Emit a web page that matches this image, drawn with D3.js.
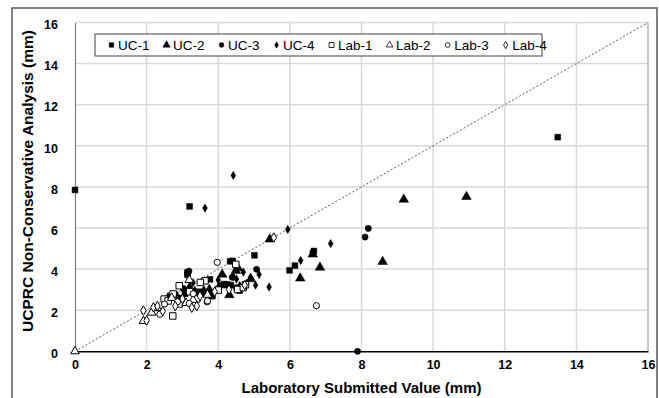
<!DOCTYPE html>
<html>
<head>
<meta charset="utf-8">
<script src="https://cdn.jsdelivr.net/npm/d3@7"></script>
<style>
  html, body { margin: 0; padding: 0; background: #fff; }
  svg { display: block; font-family: "Liberation Sans", Arial, sans-serif; }
</style>
</head>
<body>
<svg id="chart"></svg>
<script>
// data: [lab submitted, UCPRC non-conservative]
const uc1 = [[0, 7.85], [3.2, 7.05], [13.48, 10.42], [6.67, 4.88], [6.64, 4.76], [6.14, 4.17], [5.99, 3.94],
  [5.01, 4.67], [4.33, 4.38], [4.4, 4.4], [3.14, 3.84], [3.14, 3.72], [3.77, 3.5], [4.16, 3.27], [4.26, 3.25],
  [4.35, 3.22], [3.84, 2.69], [3.07, 2.79], [3.49, 2.9], [3.81, 2.69], [4.19, 3.22], [2.8, 2.75], [4.6, 2.95]];
const uc2 = [[9.18, 7.39], [10.93, 7.52], [8.59, 4.36], [6.84, 4.08], [6.29, 3.55], [6.64, 4.72], [5.44, 5.45],
  [4.49, 3.92], [4.91, 3.52], [4.11, 3.74], [4.31, 2.74], [3.35, 2.9], [3.75, 3.0], [2.6, 2.6], [3.0, 2.5],
  [4.55, 4.05], [3.2, 3.1]];
const uc3 = [[8.19, 5.98], [8.1, 5.56], [7.89, 0], [5.07, 3.99], [4.39, 3.6], [3.97, 3.03], [3.02, 3.06],
  [3.18, 3.9], [4.5, 3.1], [3.6, 2.85], [2.9, 2.6], [4.05, 3.2]];
const uc4 = [[3.63, 6.97], [4.42, 8.56], [7.14, 5.24], [6.3, 4.42], [5.94, 5.93], [5.42, 3.13], [5.14, 3.74],
  [5.04, 3.22], [4.79, 3.31], [4.51, 3.52], [4.42, 3.63], [4.0, 3.47], [3.3, 3.34], [3.6, 3.0], [4.6, 3.2],
  [4.9, 3.6], [2.6, 2.5], [3.9, 2.9], [4.7, 3.85]];
const lab1 = [[4.49, 4.23], [4.76, 3.24], [4.54, 3.01], [3.63, 3.43], [2.91, 3.19], [2.74, 2.79], [2.49, 2.54],
  [2.73, 1.72], [2.91, 2.3], [4.0, 2.98], [3.4, 2.55], [2.6, 2.45], [3.5, 3.35], [4.7, 3.1], [3.2, 2.9]];
const lab2 = [[0, 0], [1.91, 1.47], [2.14, 1.88], [3.19, 3.47], [2.3, 2.1], [2.7, 2.6], [3.1, 2.35],
  [3.3, 2.5], [3.7, 2.75]];
const lab3 = [[3.97, 4.33], [6.74, 2.22], [3.69, 2.41], [2.37, 1.8], [3.19, 2.33], [2.86, 2.41], [3.7, 2.45],
  [2.5, 2.3], [3.3, 2.8]];
const lab4 = [[5.55, 5.54], [1.91, 1.98], [2.19, 2.14], [3.26, 2.12], [3.49, 2.69], [4.74, 3.22], [2.0, 1.5],
  [2.3, 2.2], [2.45, 1.95], [2.8, 2.2], [3.0, 2.55], [3.4, 2.2], [3.9, 2.9], [4.3, 3.0]];

const seriesNames = ['UC-1', 'UC-2', 'UC-3', 'UC-4', 'Lab-1', 'Lab-2', 'Lab-3', 'Lab-4'];
const seriesData = [uc1, uc2, uc3, uc4, lab1, lab2, lab3, lab4];
const axisTicks = [0, 2, 4, 6, 8, 10, 12, 14, 16];

const width = 659, height = 398;
const margin = { top: 22.5, right: 11, bottom: 46.7, left: 75 };

// marker style per series
const markers = [
  { type: d3.symbolSquare, size: 34, filled: true },
  { type: d3.symbolTriangle, size: 40, filled: true },
  { type: d3.symbolCircle, size: 30, filled: true },
  { type: d3.symbolDiamond, size: 20, filled: true },
  { type: d3.symbolSquare, size: 42, filled: false },
  { type: d3.symbolTriangle, size: 32, filled: false },
  { type: d3.symbolCircle, size: 30, filled: false },
  { type: d3.symbolDiamond, size: 26, filled: false },
];

const svg = d3.select('#chart').attr('width', width).attr('height', height);

// outer frame
svg.append('rect')
  .attr('x', 12).attr('y', 8).attr('width', 645).attr('height', 400)
  .attr('fill', '#fff').attr('stroke', '#595959').attr('stroke-width', 1.5);

const x = d3.scaleLinear([0, 16], [margin.left, width - margin.right]);
const y = d3.scaleLinear([0, 16], [height - margin.bottom, margin.top]);

// grid
const grid = svg.append('g').attr('stroke', '#d9d9d9').attr('stroke-width', 1.5);
grid.selectAll('.gx').data(axisTicks.slice(1)).join('line')
  .attr('x1', (d) => x(d)).attr('x2', (d) => x(d))
  .attr('y1', y(0)).attr('y2', y(16));
grid.selectAll('.gy').data(axisTicks.slice(1)).join('line')
  .attr('x1', x(0)).attr('x2', x(16))
  .attr('y1', (d) => y(d)).attr('y2', (d) => y(d));
svg.append('line')
  .attr('x1', x(16)).attr('x2', x(16)).attr('y1', y(0)).attr('y2', y(16))
  .attr('stroke', '#bfbfbf').attr('stroke-width', 1.5);

// axes
const xAxis = d3.axisBottom(x).tickValues(axisTicks).tickSize(0).tickPadding(9);
svg.append('g')
  .attr('transform', `translate(0,${y(0)})`)
  .call(xAxis)
  .call((g) => g.select('.domain').attr('stroke', '#000').attr('stroke-width', 1.5))
  .call((g) => g.selectAll('.tick text')
    .attr('font-family', '"Liberation Sans", Arial, sans-serif')
    .attr('font-size', 12.5).attr('font-weight', 'bold').attr('fill', '#000'));

const yAxis = d3.axisLeft(y).tickValues(axisTicks).tickSize(0).tickPadding(17);
svg.append('g')
  .attr('transform', `translate(${x(0)},0)`)
  .call(yAxis)
  .call((g) => g.select('.domain').attr('stroke', '#7f7f7f').attr('stroke-width', 1.2))
  .call((g) => g.selectAll('.tick text')
    .attr('dy', '0.5em')
    .attr('font-family', '"Liberation Sans", Arial, sans-serif')
    .attr('font-size', 12.5).attr('font-weight', 'bold').attr('fill', '#000'));

// 1:1 line
svg.append('line')
  .attr('x1', x(0)).attr('y1', y(0)).attr('x2', x(16)).attr('y2', y(16))
  .attr('stroke', '#595959').attr('stroke-width', 1).attr('stroke-dasharray', '2,2');

// points
const symbol = d3.symbol();
seriesData.forEach((pts, i) => {
  const m = markers[i];
  svg.append('g')
    .selectAll('path')
    .data(pts)
    .join('path')
    .attr('transform', (d) => `translate(${x(d[0])},${y(d[1])})`)
    .attr('d', symbol.type(m.type).size(m.size)())
    .attr('fill', m.filled ? '#000' : '#fff')
    .attr('stroke', '#000')
    .attr('stroke-width', m.filled ? 0.5 : 1);
});

// axis titles
svg.append('text')
  .attr('x', (x(0) + x(16)) / 2).attr('y', 393)
  .attr('text-anchor', 'middle')
  .attr('font-size', 15).attr('font-weight', 'bold')
  .text('Laboratory Submitted Value (mm)');
svg.append('text')
  .attr('transform', `translate(33,181) rotate(-90)`)
  .attr('text-anchor', 'middle')
  .attr('font-size', 15.5).attr('font-weight', 'bold')
  .text('UCPRC Non-Conservative Analysis (mm)');

// legend
const legend = svg.append('g');
legend.append('rect')
  .attr('x', 95).attr('y', 34).attr('width', 447).attr('height', 22)
  .attr('fill', '#fff').attr('stroke', '#404040').attr('stroke-width', 1);
let lx = 111.5;
seriesNames.forEach((name, i) => {
  const m = markers[i];
  legend.append('path')
    .attr('transform', `translate(${lx},45)`)
    .attr('d', d3.symbol().type(m.type).size(m.size * 0.6)())
    .attr('fill', m.filled ? '#000' : '#fff')
    .attr('stroke', '#000')
    .attr('stroke-width', m.filled ? 0.5 : 0.8);
  const t = legend.append('text')
    .attr('x', lx + 6.5).attr('y', 49.8)
    .attr('font-size', 13.5)
    .text(name);
  lx += 6.5 + t.node().getComputedTextLength() + 17;
});
</script>
</body>
</html>
